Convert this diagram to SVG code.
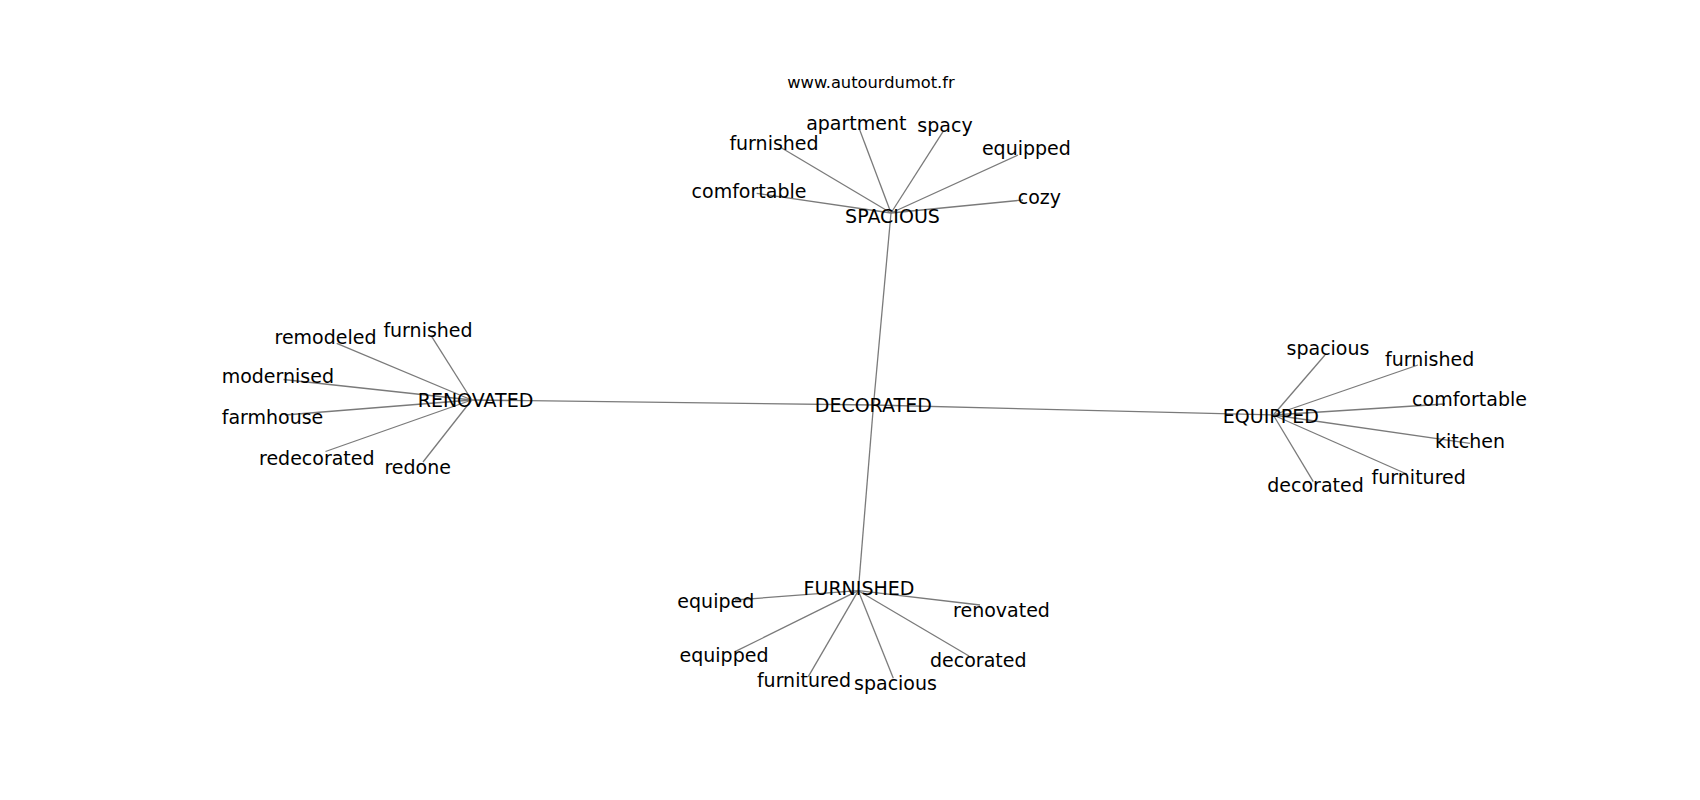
<svg xmlns="http://www.w3.org/2000/svg" width="1700" height="800" viewBox="0 0 1700 800">
<style>
  .edge { stroke: #7a7a7a; stroke-width: 1.3; fill: none; }
  .lbl { font-family: "DejaVu Sans", "Liberation Sans", sans-serif; font-size: 19px; fill: #000; text-anchor: middle; }
  .title { font-family: "DejaVu Sans", "Liberation Sans", sans-serif; font-size: 16.3px; fill: #000; text-anchor: middle; }
</style>
<rect width="1700" height="800" fill="#ffffff"/>
<g id="connectors">
  <line class="edge" x1="873.5" y1="405" x2="891" y2="213"/>
  <line class="edge" x1="873.5" y1="405" x2="471.7" y2="400"/>
  <line class="edge" x1="873.5" y1="405" x2="1273.3" y2="415"/>
  <line class="edge" x1="873.5" y1="405" x2="858.3" y2="590.7"/>
  <line class="edge" x1="891" y1="213" x2="756.7" y2="193.3"/>
  <line class="edge" x1="891" y1="213" x2="780" y2="147"/>
  <line class="edge" x1="891" y1="213" x2="859" y2="128"/>
  <line class="edge" x1="891" y1="213" x2="943" y2="131.7"/>
  <line class="edge" x1="891" y1="213" x2="1018" y2="155"/>
  <line class="edge" x1="891" y1="213" x2="1023" y2="200"/>
  <line class="edge" x1="471.7" y1="400" x2="431.7" y2="336.7"/>
  <line class="edge" x1="471.7" y1="400" x2="336.7" y2="343.3"/>
  <line class="edge" x1="471.7" y1="400" x2="283.5" y2="379.5"/>
  <line class="edge" x1="471.7" y1="400" x2="285" y2="415"/>
  <line class="edge" x1="471.7" y1="400" x2="325.5" y2="451.5"/>
  <line class="edge" x1="471.7" y1="400" x2="423" y2="462"/>
  <line class="edge" x1="1273.3" y1="415" x2="1325" y2="355"/>
  <line class="edge" x1="1273.3" y1="415" x2="1418" y2="365"/>
  <line class="edge" x1="1273.3" y1="415" x2="1445" y2="404"/>
  <line class="edge" x1="1273.3" y1="415" x2="1470" y2="443.3"/>
  <line class="edge" x1="1273.3" y1="415" x2="1406.7" y2="474"/>
  <line class="edge" x1="1273.3" y1="415" x2="1313.3" y2="481.7"/>
  <line class="edge" x1="858.3" y1="590.7" x2="735" y2="600"/>
  <line class="edge" x1="858.3" y1="590.7" x2="735" y2="651.7"/>
  <line class="edge" x1="858.3" y1="590.7" x2="808.3" y2="676.7"/>
  <line class="edge" x1="858.3" y1="590.7" x2="893.3" y2="678.3"/>
  <line class="edge" x1="858.3" y1="590.7" x2="969" y2="656"/>
  <line class="edge" x1="858.3" y1="590.7" x2="980" y2="605"/>
</g>
<g id="title"><text class="title" x="871" y="88.3">www.autourdumot.fr</text></g>
<g id="node-decorated"><text class="lbl" x="873.3" y="411.7">DECORATED</text></g>
<g id="node-spacious"><text class="lbl" x="892.5" y="223.3">SPACIOUS</text></g>
<g id="node-renovated"><text class="lbl" x="475.5" y="407">RENOVATED</text></g>
<g id="node-equipped"><text class="lbl" x="1270.8" y="423.3">EQUIPPED</text></g>
<g id="node-furnished"><text class="lbl" x="859" y="595">FURNISHED</text></g>
<g id="node-s-comfortable"><text class="lbl" x="749" y="197.7">comfortable</text></g>
<g id="node-s-furnished"><text class="lbl" x="774" y="150">furnished</text></g>
<g id="node-s-apartment"><text class="lbl" x="856.3" y="130">apartment</text></g>
<g id="node-s-spacy"><text class="lbl" x="945" y="131.7">spacy</text></g>
<g id="node-s-equipped"><text class="lbl" x="1026.4" y="155.3">equipped</text></g>
<g id="node-s-cozy"><text class="lbl" x="1039.4" y="204">cozy</text></g>
<g id="node-r-furnished"><text class="lbl" x="428" y="336.7">furnished</text></g>
<g id="node-r-remodeled"><text class="lbl" x="325.5" y="344.3">remodeled</text></g>
<g id="node-r-modernised"><text class="lbl" x="277.8" y="382.7">modernised</text></g>
<g id="node-r-farmhouse"><text class="lbl" x="272.5" y="424">farmhouse</text></g>
<g id="node-r-redecorated"><text class="lbl" x="316.8" y="464.6">redecorated</text></g>
<g id="node-r-redone"><text class="lbl" x="417.7" y="474.3">redone</text></g>
<g id="node-e-spacious"><text class="lbl" x="1328" y="355">spacious</text></g>
<g id="node-e-furnished"><text class="lbl" x="1429.7" y="365.7">furnished</text></g>
<g id="node-e-comfortable"><text class="lbl" x="1469.5" y="406">comfortable</text></g>
<g id="node-e-kitchen"><text class="lbl" x="1470" y="448.3">kitchen</text></g>
<g id="node-e-furnitured"><text class="lbl" x="1418.7" y="484">furnitured</text></g>
<g id="node-e-decorated"><text class="lbl" x="1315.5" y="491.7">decorated</text></g>
<g id="node-f-equiped"><text class="lbl" x="715.8" y="608.3">equiped</text></g>
<g id="node-f-equipped"><text class="lbl" x="724" y="661.7">equipped</text></g>
<g id="node-f-furnitured"><text class="lbl" x="804" y="686.7">furnitured</text></g>
<g id="node-f-spacious"><text class="lbl" x="895.5" y="690">spacious</text></g>
<g id="node-f-decorated"><text class="lbl" x="978.3" y="666.7">decorated</text></g>
<g id="node-f-renovated"><text class="lbl" x="1001.5" y="616.5">renovated</text></g>
</svg>
